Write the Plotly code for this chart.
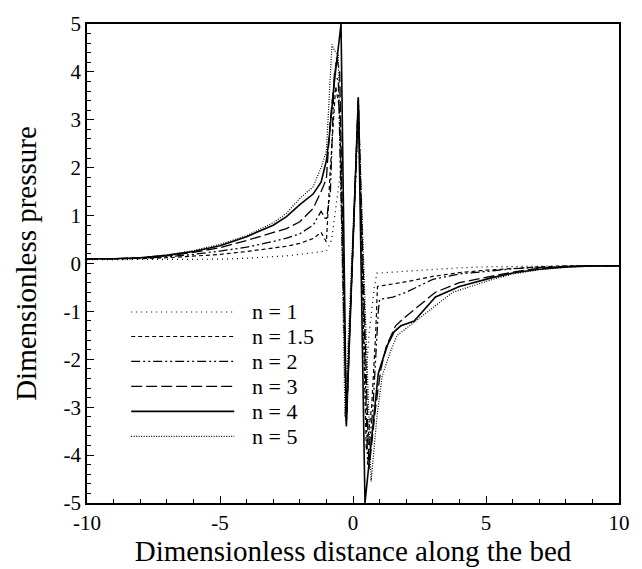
import plotly.graph_objects as go

# ---- data ----
x_n1 = [-10, -9, -8, -7, -6, -5, -4, -3, -2.5, -2, -1.5, -1.2, -1.0,
        -0.8, -0.6, -0.45, -0.25, 0.2, 0.45, 0.6, 0.8, 0.9, 1.2, 1.5, 2, 3, 4, 5, 6, 7, 8, 9, 10]
y_n1 = [0.08, 0.08, 0.08, 0.08, 0.08, 0.09, 0.11, 0.14, 0.16, 0.19, 0.22, 0.24, 0.26,
        0.5, 1.3, 2.0, -3.0, 3.0, -2.8, -1.5, -0.5, -0.2, -0.19, -0.18, -0.16, -0.12, -0.09, -0.07, -0.06, -0.05, -0.05, -0.05, -0.05]

x_n15 = [-10, -9, -8, -7, -6, -5, -4, -3, -2.5, -2, -1.5, -1.2, -1.0,
         -0.85, -0.65, -0.5, -0.25, 0.2, 0.5, 0.7, 0.85, 0.92, 1.5, 2, 3, 4, 5, 6, 7, 8, 9, 10]
y_n15 = [0.09, 0.09, 0.1, 0.12, 0.15, 0.19, 0.25, 0.32, 0.36, 0.42, 0.52, 0.65, 0.45,
         2.0, 3.7, 3.2, -3.2, 3.3, -3.9, -3.0, -1.5, -0.48, -0.43, -0.38, -0.27, -0.19, -0.14, -0.1, -0.07, -0.05, -0.05, -0.05]

x_n2 = [-10, -9, -8, -7, -6, -5, -4, -3, -2.5, -2, -1.5, -1.2, -1.0,
        -0.85, -0.7, -0.55, -0.25, 0.2, 0.55, 0.75, 0.88, 0.95, 1.0, 1.5, 2, 3, 4, 5, 6, 7, 8, 9, 10]
y_n2 = [0.09, 0.1, 0.11, 0.14, 0.19, 0.26, 0.34, 0.46, 0.53, 0.62, 0.8, 1.09, 0.9,
        1.5, 4.0, 3.8, -3.36, 3.47, -4.2, -3.0, -1.5, -1.0, -0.75, -0.7, -0.6, -0.33, -0.22, -0.16, -0.11, -0.08, -0.06, -0.05, -0.05]

x_n3 = [-10, -9, -8, -7, -6, -5, -4, -3, -2.5, -2, -1.5, -1.2, -1.0,
        -0.85, -0.62, -0.5, -0.25, 0.2, 0.6, 0.85, 1.05, 1.25, 1.6, 2.0, 3.1, 4, 5.2, 6, 7, 8, 9, 10]
y_n3 = [0.1, 0.1, 0.12, 0.16, 0.23, 0.33, 0.48, 0.64, 0.73, 0.87, 1.15, 1.5, 1.77,
        3.0, 4.3, 4.0, -3.3, 3.4, -4.3, -3.0, -2.2, -1.73, -1.3, -1.1, -0.6, -0.4, -0.27, -0.18, -0.1, -0.06, -0.05, -0.05]

x_n4 = [-10, -9, -8, -7, -6, -5, -4, -3, -2.5, -2, -1.5, -1.2, -1.0,
        -0.9, -0.7, -0.45, -0.25, 0.2, 0.45, 0.6, 0.8, 0.95, 1.07, 1.3, 1.55, 1.8, 2.3, 3.1, 4, 5.2, 6, 7, 8, 9, 10]
y_n4 = [0.1, 0.1, 0.12, 0.17, 0.25, 0.37, 0.56, 0.8, 0.98, 1.23, 1.45, 1.7, 2.15,
        2.6, 3.8, 5.0, -3.4, 3.47, -5.0, -4.2, -3.2, -2.3, -2.08, -1.7, -1.42, -1.3, -1.2, -0.7, -0.48, -0.3, -0.2, -0.12, -0.07, -0.05, -0.05]

x_n5 = [-10, -9, -8, -7, -6, -5, -4, -3, -2.5, -2, -1.5, -1.2, -1.0,
        -0.88, -0.79, -0.7, -0.55, -0.3, 0.2, 0.68, 0.9, 1.1, 1.4, 1.66, 2.0, 2.55, 3.75, 5.2, 6, 7, 8, 9, 10]
y_n5 = [0.1, 0.1, 0.12, 0.18, 0.27, 0.4, 0.58, 0.85, 1.05, 1.36, 1.6, 2.0, 2.35,
        3.5, 4.57, 4.45, 4.35, -3.2, 3.3, -4.55, -3.2, -2.34, -1.85, -1.5, -1.35, -1.12, -0.6, -0.34, -0.22, -0.13, -0.08, -0.05, -0.05]

labels = ["n = 1", "n = 1.5", "n = 2", "n = 3", "n = 4", "n = 5"]
x_ticks = [-10, -5, 0, 5, 10]
x_tick_text = ["-10", "-5", "0", "5", "10"]
y_ticks = [-5, -4, -3, -2, -1, 0, 1, 2, 3, 4, 5]
y_tick_text = ["-5", "-4", "-3", "-2", "-1", "0", "1", "2", "3", "4", "5"]

# ---- styles ----
styles = [
    dict(dash="1px,4px", width=1.2),
    dict(dash="4px,3px", width=1.2),
    dict(dash="9px,3px,2px,3px,2px,3px", width=1.3),
    dict(dash="11px,4px", width=1.3),
    dict(dash="solid", width=1.6),
    dict(dash="1px,1.5px", width=1.2),
]
series = [(x_n1, y_n1), (x_n15, y_n15), (x_n2, y_n2), (x_n3, y_n3), (x_n4, y_n4), (x_n5, y_n5)]

fig = go.Figure()
for (xs, ys), lab, st in zip(series, labels, styles):
    fig.add_trace(go.Scatter(x=xs, y=ys, mode="lines", name=lab,
                             line=dict(color="black", dash=st["dash"], width=st["width"]),
                             showlegend=False))

font = "Liberation Serif"

# manual legend (paper coordinates)
W, H = 642, 569
L, R, T, B = 87, 13, 14, 66
pw, ph = W - L - R, H - T - B
def px2paper(px, py):
    return (px - L) / pw, (H - B - py) / ph

shapes = []
annotations = []
rows_y = [308, 333, 358.5, 384, 409.5, 435]
for lab, st, ry in zip(labels, styles, rows_y):
    x0, y0 = px2paper(132, ry)
    x1, _ = px2paper(237, ry)
    shapes.append(dict(type="line", xref="paper", yref="paper", x0=x0, x1=x1, y0=y0, y1=y0,
                       line=dict(color="black", dash=st["dash"], width=st["width"])))
    tx, ty = px2paper(253, ry)
    annotations.append(dict(text=lab, xref="paper", yref="paper", x=tx, y=ty,
                            xanchor="left", yanchor="middle", showarrow=False,
                            font=dict(family=font, size=22, color="black")))

fig.update_layout(
    width=W, height=H,
    margin=dict(l=L, r=R, t=T, b=B),
    paper_bgcolor="white", plot_bgcolor="white",
    font=dict(family=font, size=21, color="black"),
    shapes=shapes, annotations=annotations,
    showlegend=False,
)
fig.update_xaxes(
    range=[-10, 10], tickvals=x_ticks, ticktext=x_tick_text,
    tickfont=dict(family=font, size=21, color="black"),
    ticks="inside", ticklen=7, tickwidth=1, tickcolor="black",
    minor=dict(dtick=1, ticks="inside", ticklen=4, tickcolor="black"),
    showline=True, linecolor="black", linewidth=1.5, mirror=True,
    showgrid=False, zeroline=False,
    title=dict(text="Dimensionless distance along the bed", font=dict(family=font, size=29, color="black"), standoff=2),
)
fig.update_yaxes(
    range=[-5, 5], tickvals=y_ticks, ticktext=y_tick_text,
    tickfont=dict(family=font, size=21, color="black"),
    ticks="inside", ticklen=7, tickwidth=1, tickcolor="black",
    minor=dict(dtick=0.2, ticks="inside", ticklen=4, tickcolor="black"),
    showline=True, linecolor="black", linewidth=1.5, mirror=True,
    showgrid=False, zeroline=False,
    title=dict(text="Dimensionless pressure", font=dict(family=font, size=29, color="black"), standoff=18),
)

fig.write_html("out.html")
